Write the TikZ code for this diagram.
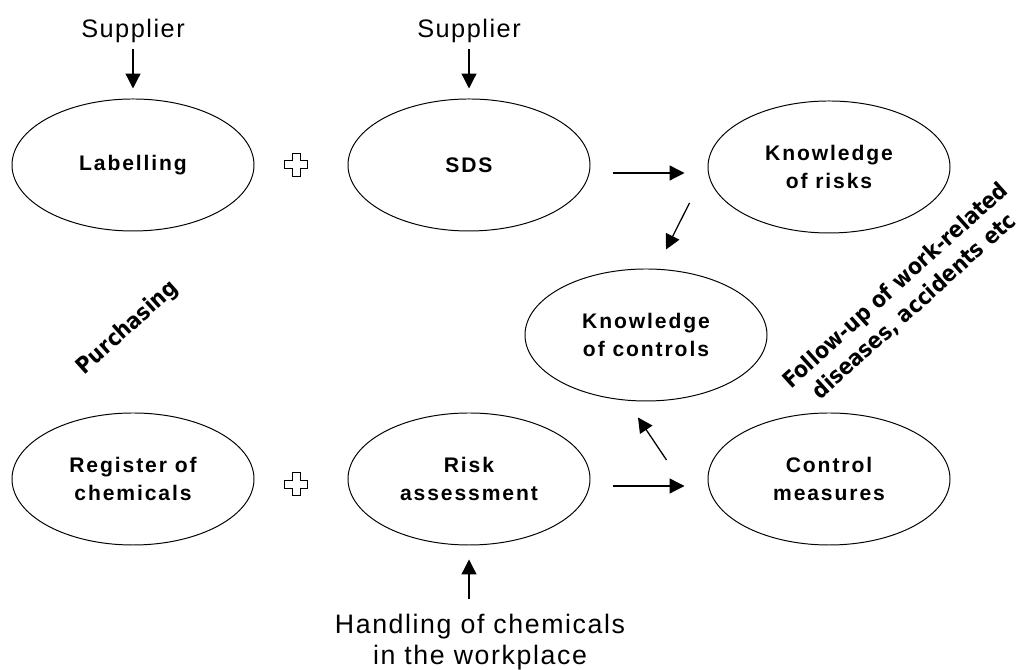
\documentclass[tikz,border=0pt]{standalone}
\usepackage{fontspec}
\setmainfont{Liberation Sans}
\newfontfamily\labelfont[LetterSpace=9]{Liberation Sans}
\newfontfamily\plainfont[LetterSpace=6]{Liberation Sans}
\newfontfamily\heavyfont{DejaVu Sans Condensed}
\usetikzlibrary{positioning, arrows.meta, shapes.geometric}

\tikzset{
  bubble/.style={ellipse, draw, line width=0.7pt, minimum width=6.05cm, minimum height=3.3cm,
    align=center, font=\labelfont\bfseries\fontsize{15}{20}\selectfont},
  source/.style={inner sep=0pt, align=center},
  slanted/.style={inner sep=0pt, align=center, rotate=42,
    font=\heavyfont\bfseries\fontsize{16}{20}\selectfont},
  flow/.style={-{Triangle[length=0.37cm,width=0.37cm]}, line width=0.9pt},
  plussign/.pic={
    \draw[line width=0.7pt] (-0.1,-0.29) -- (0.1,-0.29) -- (0.1,-0.1) -- (0.29,-0.1) -- (0.29,0.1)
      -- (0.1,0.1) -- (0.1,0.29) -- (-0.1,0.29) -- (-0.1,0.1) -- (-0.29,0.1) -- (-0.29,-0.1)
      -- (-0.1,-0.1) -- cycle;
  }
}

\begin{document}
\begin{tikzpicture}

\useasboundingbox (0,0) rectangle (25.4,16.75);

% Ellipses
\node[bubble] (lab)   at (3.325,12.625) {Labelling};
\node[bubble] (sds)   at (11.725,12.625) {SDS};
\node[bubble] (krisk) at (20.725,12.575) {Knowledge\\of risks};
\node[bubble] (kctrl) at (16.15,8.375) {Knowledge\\of controls};
\node[bubble] (reg)   at (3.325,4.775) {Register of\\chemicals};
\node[bubble] (risk)  at (11.725,4.775) {Risk\\assessment};
\node[bubble] (ctrl)  at (20.725,4.775) {Control\\measures};

% Sources
\node[source, font=\plainfont\fontsize{18}{20}\selectfont] (sup1) at (3.325,15.975) {Supplier};
\node[source, font=\plainfont\fontsize{18}{20}\selectfont] (sup2) at (11.725,15.975) {Supplier};
\node[source, font=\plainfont\fontsize{19}{22}\selectfont] (hand) at (12.0,0.7) {Handling of chemicals\\in the workplace};

% Slanted notes
\node[slanted] (purch)  at (3.2,8.55) {Purchasing};
\node[slanted] (follow) at (22.625,9.35) {Follow-up of work-related\\diseases, accidents etc};

% Plus signs
\foreach \y in {12.625, 4.65} {
  \pic at (7.4,\y) {plussign};
}

% Arrows
\draw[flow, shorten <=0.15cm, shorten >=0.25cm] (sup1.south) -- (lab.north);
\draw[flow, shorten <=0.15cm, shorten >=0.25cm] (sup2.south) -- (sds.north);
\draw[flow, shorten <=0.575cm, shorten >=0.575cm] ([yshift=-0.2cm]sds.east) -- ([yshift=-0.15cm]krisk.west);
\draw[flow] ([xshift=-0.45cm,yshift=-0.9cm]krisk.west) -- ([xshift=0.5cm,yshift=0.475cm]kctrl.north);
\draw[flow, shorten <=0.575cm, shorten >=0.575cm] ([yshift=-0.175cm]risk.east) -- ([yshift=-0.175cm]ctrl.west);
\draw[flow] ([xshift=-1.025cm,yshift=0.475cm]ctrl.west) -- ([xshift=-0.2cm,yshift=-0.4cm]kctrl.south);
\draw[flow, shorten <=0.375cm, shorten >=0.35cm] (risk.south |- hand.north) -- (risk.south);

\end{tikzpicture}
\end{document}
